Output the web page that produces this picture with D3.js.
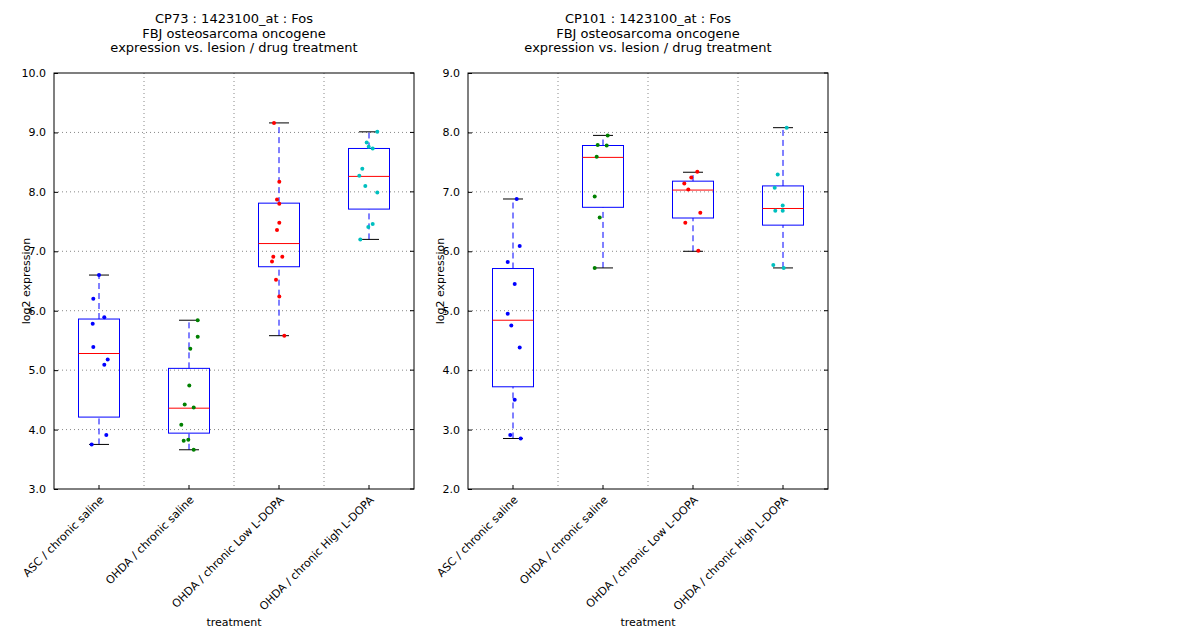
<!DOCTYPE html>
<html><head><meta charset="utf-8">
<script src="https://cdn.jsdelivr.net/npm/d3@7"></script>
<style>body{margin:0;background:#fff;font-family:"DejaVu Sans",sans-serif;}</style>
</head><body>
<script>
'use strict';
const categories = ["ASC / chronic saline", "OHDA / chronic saline", "OHDA / chronic Low L-DOPA", "OHDA / chronic High L-DOPA"];
const pointColors = ["#0000ff", "#008000", "#ff0000", "#00bfbf"];

// panel 1: values and jitter offsets (px)
const p1Values = [
  [6.60, 6.20, 5.89, 5.78, 5.39, 5.18, 5.09, 3.91, 3.75],
  [5.84, 5.56, 5.36, 4.74, 4.42, 4.37, 4.08, 3.83, 3.81, 3.66],
  [9.16, 8.17, 7.87, 7.80, 7.48, 7.36, 6.91, 6.91, 6.83, 6.52, 6.24, 5.58],
  [9.01, 8.83, 8.76, 8.73, 8.39, 8.27, 8.10, 7.99, 7.46, 7.41, 7.20]
];
const p1Jitter = [
  [0, -5.7, 5.3, -6.3, -5.7, 8.7, 5.3, 7.3, -7.3],
  [8.7, 8.7, 1.3, 0.3, -4.3, 4.7, -7.7, -0.7, -5.3, 4.7],
  [-5, 0.3, -2, 0.3, 0.3, -2, -5.7, 3.3, -7, -3, 0.3, 5.3],
  [8.3, -2.3, -0.3, 3.7, -6.7, -9.7, -3.7, 8.3, 3.7, -0.7, -8.7]
];
// box stats: [whisker low, q1, median, q3, whisker high]
const p1Boxes = [
  [3.75, 4.21, 5.28, 5.86, 6.60],
  [3.66, 3.94, 4.36, 5.03, 5.84],
  [5.58, 6.74, 7.13, 7.81, 9.16],
  [7.20, 7.71, 8.26, 8.73, 9.01]
];

const p2Values = [
  [6.88, 6.09, 5.82, 5.45, 4.95, 4.75, 4.38, 3.50, 2.91, 2.85],
  [7.95, 7.79, 7.78, 7.59, 6.92, 6.57, 5.72],
  [7.34, 7.24, 7.14, 7.04, 6.65, 6.48, 6.01],
  [8.08, 7.29, 7.07, 6.77, 6.68, 6.68, 5.77, 5.72]
];
const p2Jitter = [
  [3.7, 6.7, -5.3, 1.7, -5.3, -1.7, 6.7, 1.7, -2.7, 7.7],
  [4.7, -5.3, 3.7, -6.3, -8.3, -3.3, -8.3],
  [4.3, -1.7, -8.7, -4.7, 7.3, -7.7, 5.3],
  [3.7, -5.3, -8.3, -0.3, -7.7, -0.3, -9.7, 0.7]
];
const p2Boxes = [
  [2.85, 3.72, 4.84, 5.71, 6.88],
  [5.72, 6.74, 7.58, 7.78, 7.95],
  [6.00, 6.56, 7.03, 7.18, 7.33],
  [5.72, 6.44, 6.72, 7.10, 8.08]
];

const panels = [
  {title: "CP73 : 1423100_at : Fos", left: 54, domain: [3, 10], values: p1Values, jitter: p1Jitter, boxes: p1Boxes},
  {title: "CP101 : 1423100_at : Fos", left: 468, domain: [2, 9], values: p2Values, jitter: p2Jitter, boxes: p2Boxes}
];

const svg = d3.select("body").append("svg").attr("width", 1200).attr("height", 640);
const plotTop = 73, plotBottom = 489, w = 360;

panels.forEach(p => {
  const g = svg.append("g").attr("transform", `translate(${p.left},0)`);
  const x = d3.scaleBand().domain(categories).range([0, w]);
  const y = d3.scaleLinear().domain(p.domain).range([plotBottom, plotTop]);
  const ticks = d3.range(p.domain[0], p.domain[1] + 1);

  // grid
  g.selectAll(".hg").data(ticks.slice(1, -1)).enter().append("line")
    .attr("x1", 0).attr("x2", w).attr("y1", d => y(d)).attr("y2", d => y(d))
    .attr("stroke", "#888").attr("stroke-dasharray", "1,3");
  g.selectAll(".vg").data(categories.slice(1)).enter().append("line")
    .attr("x1", d => x(d)).attr("x2", d => x(d)).attr("y1", plotTop).attr("y2", plotBottom)
    .attr("stroke", "#888").attr("stroke-dasharray", "1,3");

  // boxes
  const bw = 41;
  p.boxes.forEach((b, i) => {
    const cx = x(categories[i]) + x.bandwidth() / 2;
    g.append("line").attr("x1", cx).attr("x2", cx).attr("y1", y(b[0])).attr("y2", y(b[1]))
      .attr("stroke", "#0000ff").attr("stroke-dasharray", "6,4");
    g.append("line").attr("x1", cx).attr("x2", cx).attr("y1", y(b[3])).attr("y2", y(b[4]))
      .attr("stroke", "#0000ff").attr("stroke-dasharray", "6,4");
    [b[0], b[4]].forEach(v => g.append("line").attr("x1", cx - 10).attr("x2", cx + 10)
      .attr("y1", y(v)).attr("y2", y(v)).attr("stroke", "#000"));
    g.append("rect").attr("x", cx - bw / 2).attr("width", bw).attr("y", y(b[3]))
      .attr("height", y(b[1]) - y(b[3])).attr("fill", "none").attr("stroke", "#0000ff");
    g.append("line").attr("x1", cx - bw / 2).attr("x2", cx + bw / 2)
      .attr("y1", y(b[2])).attr("y2", y(b[2])).attr("stroke", "#ff0000");
    g.selectAll(null).data(p.values[i]).enter().append("circle")
      .attr("cx", (d, j) => cx + p.jitter[i][j]).attr("cy", d => y(d)).attr("r", 2)
      .attr("fill", pointColors[i]);
  });

  // frame and axes
  g.append("rect").attr("x", 0).attr("y", plotTop).attr("width", w).attr("height", plotBottom - plotTop)
    .attr("fill", "none").attr("stroke", "#000");
  const ya = g.append("g").call(d3.axisLeft(y).tickValues(ticks).tickSize(-4).tickPadding(8));
  ya.select(".domain").remove();
  ya.selectAll("text").attr("font-size", 11).attr("font-family", "DejaVu Sans");
  g.selectAll(".rt").data(ticks).enter().append("line")
    .attr("x1", w).attr("x2", w - 4).attr("y1", d => y(d)).attr("y2", d => y(d)).attr("stroke", "#000");
  const xa = g.append("g").attr("transform", `translate(0,${plotBottom})`)
    .call(d3.axisBottom(x).tickSize(-4).tickSizeOuter(0));
  xa.select(".domain").remove();
  xa.selectAll("text").attr("font-size", 11).attr("font-family", "DejaVu Sans")
    .attr("text-anchor", "end").attr("transform", "translate(0,6) rotate(-45)").attr("dy", "0.35em").attr("y", 4);

  g.append("text").attr("x", w / 2).attr("y", 626).attr("text-anchor", "middle")
    .attr("font-size", 11).text("treatment");
  g.append("text").attr("transform", `translate(-24,${(plotTop + plotBottom) / 2}) rotate(-90)`)
    .attr("text-anchor", "middle").attr("font-size", 11).text("log2 expression");
  const t = g.append("text").attr("x", w / 2).attr("text-anchor", "middle").attr("font-size", 13);
  [p.title, "FBJ osteosarcoma oncogene", "expression vs. lesion / drug treatment"].forEach((s, k) =>
    t.append("tspan").attr("x", w / 2).attr("y", 23 + k * 14.5).text(s));
});
</script>
</body></html>
